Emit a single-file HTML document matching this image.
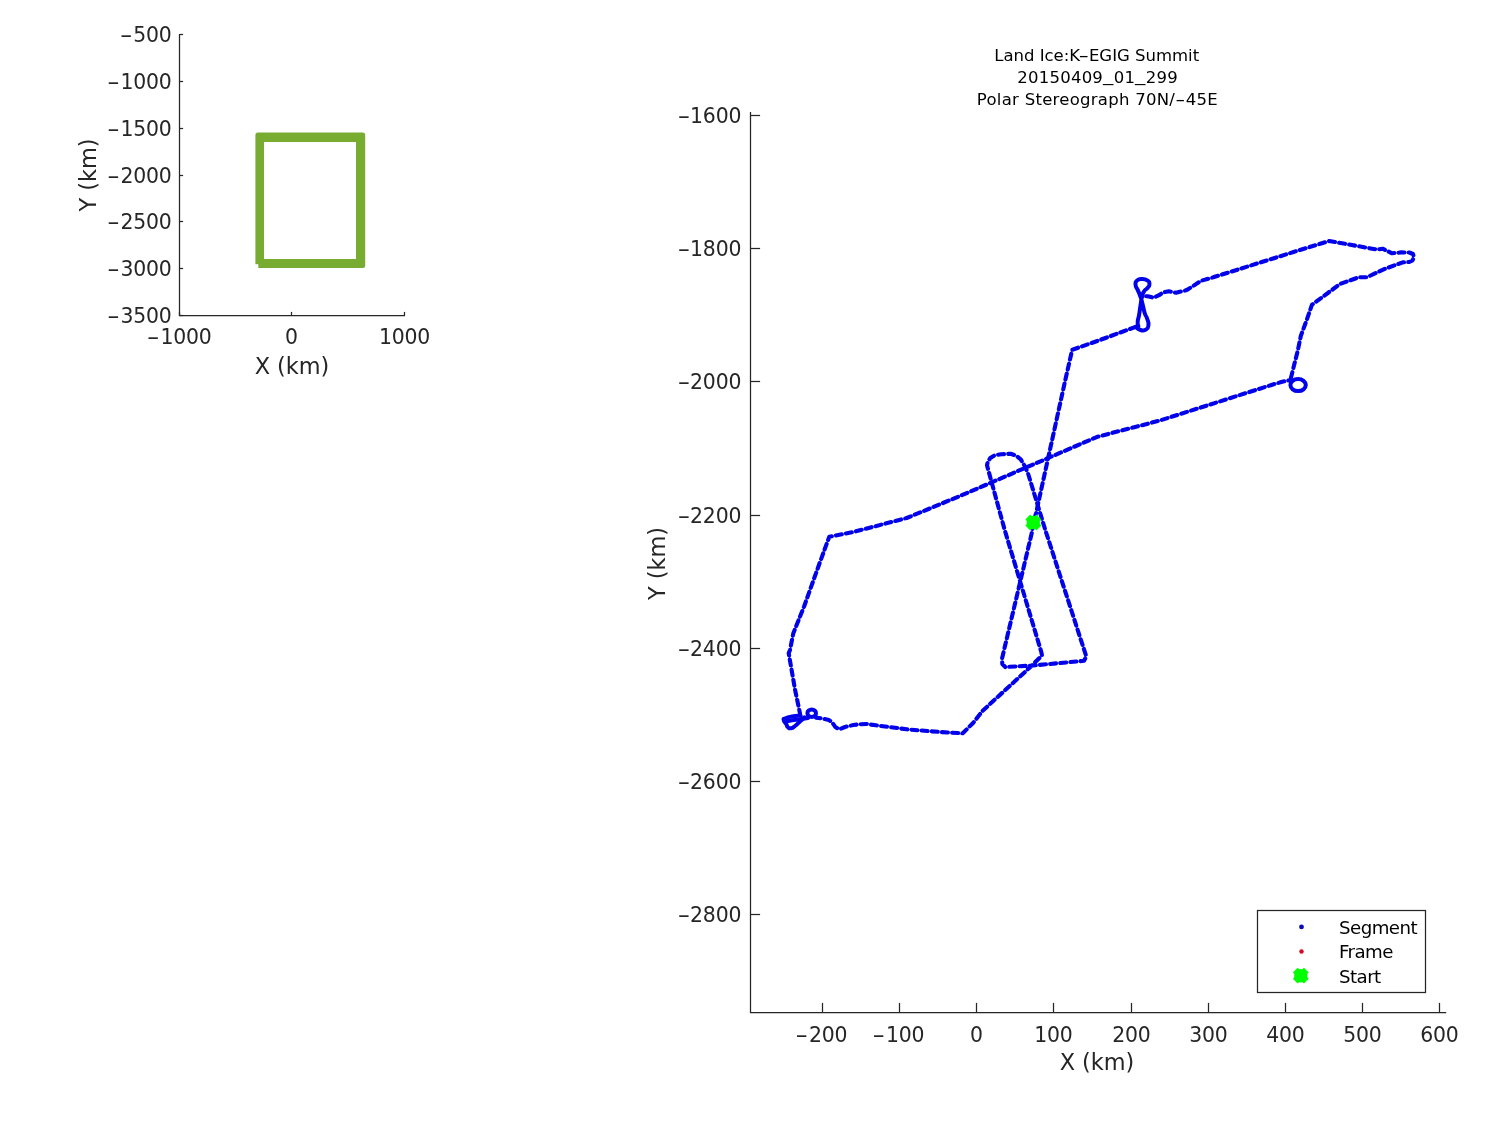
<!DOCTYPE html>
<html lang="en"><head><meta charset="utf-8"><title>Land Ice:K-EGIG Summit 20150409_01_299</title>
<style>
html,body{margin:0;padding:0;background:#fff;}
body{width:1500px;height:1125px;overflow:hidden;}
svg{display:block;}
text{font-family:"DejaVu Sans", "Liberation Sans", sans-serif;}
.tick{font-size:20.4px;letter-spacing:-0.2px;fill:#262626;}
.lab{font-size:22.4px;fill:#262626;}
.ttl{font-size:16.5px;fill:#000;}
.leg{font-size:18.2px;letter-spacing:-0.55px;fill:#000;}
.ax{stroke:#262626;stroke-width:1.25;fill:none;}
</style></head><body>
<svg width="1500" height="1125" viewBox="0 0 1500 1125">
<rect x="0" y="0" width="1500" height="1125" fill="#ffffff"/>
<g id="overview">
<path class="ax" d="M179.5 34.0 V315.5 H405.0"/>
<line class="ax" x1="179.5" y1="34.5" x2="183.1" y2="34.5"/>
<text class="tick" x="171.5" y="42.1" text-anchor="end"><tspan textLength="12.5" lengthAdjust="spacingAndGlyphs">-</tspan><tspan dx="1.0">500</tspan></text>
<line class="ax" x1="179.5" y1="81.5" x2="183.1" y2="81.5"/>
<text class="tick" x="171.5" y="89.1" text-anchor="end"><tspan textLength="12.5" lengthAdjust="spacingAndGlyphs">-</tspan><tspan dx="1.0">1000</tspan></text>
<line class="ax" x1="179.5" y1="128.5" x2="183.1" y2="128.5"/>
<text class="tick" x="171.5" y="136.1" text-anchor="end"><tspan textLength="12.5" lengthAdjust="spacingAndGlyphs">-</tspan><tspan dx="1.0">1500</tspan></text>
<line class="ax" x1="179.5" y1="175.5" x2="183.1" y2="175.5"/>
<text class="tick" x="171.5" y="183.1" text-anchor="end"><tspan textLength="12.5" lengthAdjust="spacingAndGlyphs">-</tspan><tspan dx="1.0">2000</tspan></text>
<line class="ax" x1="179.5" y1="221.5" x2="183.1" y2="221.5"/>
<text class="tick" x="171.5" y="229.1" text-anchor="end"><tspan textLength="12.5" lengthAdjust="spacingAndGlyphs">-</tspan><tspan dx="1.0">2500</tspan></text>
<line class="ax" x1="179.5" y1="268.5" x2="183.1" y2="268.5"/>
<text class="tick" x="171.5" y="276.1" text-anchor="end"><tspan textLength="12.5" lengthAdjust="spacingAndGlyphs">-</tspan><tspan dx="1.0">3000</tspan></text>
<line class="ax" x1="179.5" y1="315.5" x2="183.1" y2="315.5"/>
<text class="tick" x="171.5" y="323.1" text-anchor="end"><tspan textLength="12.5" lengthAdjust="spacingAndGlyphs">-</tspan><tspan dx="1.0">3500</tspan></text>
<line class="ax" x1="179.5" y1="315.5" x2="179.5" y2="311.9"/>
<text class="tick" x="179.2" y="344.4" text-anchor="middle"><tspan textLength="12.5" lengthAdjust="spacingAndGlyphs">-</tspan><tspan dx="1.3">1000</tspan></text>
<line class="ax" x1="291.5" y1="315.5" x2="291.5" y2="311.9"/>
<text class="tick" x="291.5" y="344.4" text-anchor="middle">0</text>
<line class="ax" x1="404.5" y1="315.5" x2="404.5" y2="311.9"/>
<text class="tick" x="404.5" y="344.4" text-anchor="middle">1000</text>
<text class="lab" x="292" y="374" text-anchor="middle">X (km)</text>
<text class="lab" transform="translate(96,175) rotate(-90)" text-anchor="middle">Y (km)</text>
<path fill-rule="evenodd" fill="#77AC30" d="M257.9 132.6 H362.7 Q365.2 132.6 365.2 135.1 V265.4 Q365.2 267.9 362.7 267.9 H255.4 V135.1 Q255.4 132.6 257.9 132.6 Z M264 141.9 V259 H356 V141.9 Z"/>
<rect x="252" y="264.2" width="6.3" height="6" fill="#ffffff"/>
</g>
<g id="main">
<path class="ax" d="M750.5 111.9 V1012.5 H1446.2"/>
<line class="ax" x1="750.5" y1="115.5" x2="760.1" y2="115.5"/>
<text class="tick" x="741.2" y="123.1" text-anchor="end"><tspan textLength="12.5" lengthAdjust="spacingAndGlyphs">-</tspan><tspan dx="0">1600</tspan></text>
<line class="ax" x1="750.5" y1="248.5" x2="760.1" y2="248.5"/>
<text class="tick" x="741.2" y="256.1" text-anchor="end"><tspan textLength="12.5" lengthAdjust="spacingAndGlyphs">-</tspan><tspan dx="0">1800</tspan></text>
<line class="ax" x1="750.5" y1="381.5" x2="760.1" y2="381.5"/>
<text class="tick" x="741.2" y="389.1" text-anchor="end"><tspan textLength="12.5" lengthAdjust="spacingAndGlyphs">-</tspan><tspan dx="0">2000</tspan></text>
<line class="ax" x1="750.5" y1="515.5" x2="760.1" y2="515.5"/>
<text class="tick" x="741.2" y="523.1" text-anchor="end"><tspan textLength="12.5" lengthAdjust="spacingAndGlyphs">-</tspan><tspan dx="0">2200</tspan></text>
<line class="ax" x1="750.5" y1="648.5" x2="760.1" y2="648.5"/>
<text class="tick" x="741.2" y="656.1" text-anchor="end"><tspan textLength="12.5" lengthAdjust="spacingAndGlyphs">-</tspan><tspan dx="0">2400</tspan></text>
<line class="ax" x1="750.5" y1="781.5" x2="760.1" y2="781.5"/>
<text class="tick" x="741.2" y="789.1" text-anchor="end"><tspan textLength="12.5" lengthAdjust="spacingAndGlyphs">-</tspan><tspan dx="0">2600</tspan></text>
<line class="ax" x1="750.5" y1="914.5" x2="760.1" y2="914.5"/>
<text class="tick" x="741.2" y="922.1" text-anchor="end"><tspan textLength="12.5" lengthAdjust="spacingAndGlyphs">-</tspan><tspan dx="0">2800</tspan></text>
<line class="ax" x1="822.5" y1="1012.5" x2="822.5" y2="1002.9"/>
<text class="tick" x="821.3" y="1041.5" text-anchor="middle"><tspan textLength="12.5" lengthAdjust="spacingAndGlyphs">-</tspan><tspan dx="1.3">200</tspan></text>
<line class="ax" x1="899.5" y1="1012.5" x2="899.5" y2="1002.9"/>
<text class="tick" x="898.3" y="1041.5" text-anchor="middle"><tspan textLength="12.5" lengthAdjust="spacingAndGlyphs">-</tspan><tspan dx="1.3">100</tspan></text>
<line class="ax" x1="976.5" y1="1012.5" x2="976.5" y2="1002.9"/>
<text class="tick" x="976.5" y="1041.5" text-anchor="middle">0</text>
<line class="ax" x1="1053.5" y1="1012.5" x2="1053.5" y2="1002.9"/>
<text class="tick" x="1053.5" y="1041.5" text-anchor="middle">100</text>
<line class="ax" x1="1131.5" y1="1012.5" x2="1131.5" y2="1002.9"/>
<text class="tick" x="1131.5" y="1041.5" text-anchor="middle">200</text>
<line class="ax" x1="1208.5" y1="1012.5" x2="1208.5" y2="1002.9"/>
<text class="tick" x="1208.5" y="1041.5" text-anchor="middle">300</text>
<line class="ax" x1="1285.5" y1="1012.5" x2="1285.5" y2="1002.9"/>
<text class="tick" x="1285.5" y="1041.5" text-anchor="middle">400</text>
<line class="ax" x1="1362.5" y1="1012.5" x2="1362.5" y2="1002.9"/>
<text class="tick" x="1362.5" y="1041.5" text-anchor="middle">500</text>
<line class="ax" x1="1439.5" y1="1012.5" x2="1439.5" y2="1002.9"/>
<text class="tick" x="1439.5" y="1041.5" text-anchor="middle">600</text>
<text class="lab" x="1097" y="1070" text-anchor="middle">X (km)</text>
<text class="lab" transform="translate(665,563.5) rotate(-90)" text-anchor="middle">Y (km)</text>
<text class="ttl" x="1096.7" y="60.8" text-anchor="middle" style="letter-spacing:0px">Land Ice:K<tspan textLength="10.5" lengthAdjust="spacingAndGlyphs">-</tspan>EGIG Summit</text>
<text class="ttl" x="1097.6" y="82.8" text-anchor="middle" style="letter-spacing:0.22px">20150409<tspan dy="-1.7" textLength="10.6" lengthAdjust="spacingAndGlyphs">_</tspan><tspan dy="1.7">01</tspan><tspan dy="-1.7" textLength="10.6" lengthAdjust="spacingAndGlyphs">_</tspan><tspan dy="1.7">299</tspan></text>
<text class="ttl" x="1097.4" y="104.5" text-anchor="middle" style="letter-spacing:0.27px">Polar Stereograph 70N/<tspan textLength="10.5" lengthAdjust="spacingAndGlyphs">-</tspan>45E</text>
<path d="M1033.3 523.0 L1032.0 532.0 L1002.0 658.7 L1002.3 664.0 L1005.3 667.0 L1033.0 665.5 L1084.0 660.8 L1086.3 656.5 L1045.3 530.0 L1028.0 473.3 L1024.7 466.0 L1020.7 459.3 L1016.0 455.6 L1010.7 453.8 L1001.3 454.2 L994.7 455.3 L990.3 458.0 L987.8 461.8 L987.0 465.3 L1004.7 530.0 L1041.3 652.0 L1042.0 655.5 L1030.7 666.7 L982.7 710.7 L973.3 722.7 L962.7 733.3 L940.0 732.0 L906.7 729.3 L876.0 725.3 L866.7 724.0 L860.0 724.2 L853.3 725.0 L845.0 727.0 L839.3 729.2 L835.6 727.3 L831.9 722.0 L828.7 719.9 L820.7 718.3 L816.0 717.6" fill="none" stroke="#0202ea" stroke-width="4.1" stroke-dasharray="6 4.2" stroke-linejoin="round" stroke-linecap="round"/>
<path d="M800.4 715.6 L798.8 707.6 L795.1 690.0 L788.7 653.3 L790.0 650.0 L793.3 633.3 L804.0 606.7 L819.3 564.0 L829.3 536.7 L853.3 532.0 L906.7 518.0 L960.0 496.0 L1097.3 436.8 L1160.0 420.5 L1270.7 385.2 L1281.3 382.0 L1290.9 379.9" fill="none" stroke="#0202ea" stroke-width="4.1" stroke-dasharray="6 4.2" stroke-linejoin="round" stroke-linecap="round"/>
<path d="M1290.9 378.0 L1297.9 350.0 L1300.8 336.0 L1306.7 320.0 L1312.0 304.7 L1340.0 284.0 L1358.7 277.3 L1366.7 277.3 L1385.3 268.7 L1402.7 262.4 L1409.3 262.0 L1412.5 260.5 L1414.0 257.2 L1413.0 254.0 L1409.3 252.5 L1401.3 252.4 L1392.0 253.3 L1382.7 248.7 L1377.3 249.6 L1329.3 241.0 L1300.0 250.0 L1213.3 277.3 L1201.3 280.7 L1188.0 289.3 L1185.0 290.6 L1176.1 292.7 L1169.0 291.3 L1163.3 292.4 L1159.0 295.2 L1153.4 297.7 L1147.7 296.3 L1143.4 296.3" fill="none" stroke="#0202ea" stroke-width="4.1" stroke-dasharray="6 4.2" stroke-linejoin="round" stroke-linecap="round"/>
<path d="M1135.6 326.9 L1100.0 340.0 L1072.2 349.8 L1065.3 380.0 L1048.0 458.7 L1036.0 513.3 L1033.3 523.0" fill="none" stroke="#0202ea" stroke-width="4.1" stroke-dasharray="6 4.2" stroke-linejoin="round" stroke-linecap="round"/>
<ellipse cx="811.7" cy="713.2" rx="4.3" ry="3.7" fill="none" stroke="#0202ea" stroke-width="4" stroke-linejoin="round" stroke-linecap="round"/>
<path d="M800.4 715.6 C797.6 715.9 797.0 715.6 792.0 716.5 C787.0 717.4 788.2 717.0 785.5 718.3 C782.8 719.6 783.5 718.3 783.8 720.3 C784.1 722.3 784.9 722.0 786.3 724.3 C787.7 726.6 786.4 726.0 788.0 727.3 C789.6 728.6 788.7 728.6 791.0 728.2 C793.3 727.8 792.0 728.2 795.0 726.0 C798.0 723.8 796.8 724.4 800.0 721.5 C803.2 718.6 803.0 718.7 804.5 717.3" fill="none" stroke="#0202ea" stroke-width="4" stroke-linejoin="round" stroke-linecap="round"/>
<path d="M785.5 721.5 L792.0 720.3 L800.0 719.3 L808.0 718.0" fill="none" stroke="#0202ea" stroke-width="4" stroke-linejoin="round" stroke-linecap="round"/>
<ellipse cx="1298.1" cy="385.1" rx="7.7" ry="6" fill="none" stroke="#0202ea" stroke-width="4" stroke-linejoin="round" stroke-linecap="round"/>
<path d="M1135.6 326.9 C1137.3 327.9 1137.3 329.1 1140.6 330.0 C1143.9 330.9 1142.9 331.2 1145.5 329.7 C1148.1 328.2 1147.9 329.2 1148.4 325.4 C1148.9 321.6 1148.2 322.3 1147.0 318.3 C1145.8 314.3 1146.2 317.9 1144.8 313.4 C1143.4 308.9 1144.1 310.3 1142.7 304.8 C1141.3 299.3 1142.3 302.0 1140.6 297.0 C1138.9 292.0 1139.4 293.9 1137.7 289.9 C1136.0 285.9 1135.8 288.0 1135.6 284.9 C1135.4 281.8 1134.9 282.6 1137.0 280.6 C1139.1 278.6 1138.4 278.9 1142.0 278.9 C1145.6 278.9 1145.2 278.8 1147.7 280.6 C1150.2 282.4 1149.4 281.8 1149.4 284.2 C1149.4 286.6 1149.5 285.4 1147.7 287.8 C1145.9 290.2 1146.0 288.2 1144.1 291.3 C1142.2 294.4 1143.2 292.5 1142.0 297.0 C1140.8 301.5 1141.6 298.9 1140.6 304.8 C1139.6 310.7 1140.1 309.1 1139.1 314.8 C1138.1 320.5 1137.9 318.1 1137.7 321.9 C1137.5 325.7 1138.2 324.8 1138.4 326.2" fill="none" stroke="#0202ea" stroke-width="4" stroke-linejoin="round" stroke-linecap="round"/>
<circle cx="1033.3" cy="522.5" r="6.7" fill="#00ff00"/><path d="M1027.78 516.98 L1038.82 528.02 M1038.82 516.98 L1027.78 528.02" stroke="#00ff00" stroke-width="6.8" fill="none" stroke-linecap="butt"/>
<rect x="1257.5" y="910.5" width="168" height="82" fill="#fff" stroke="#262626" stroke-width="1.25"/>
<circle cx="1301.5" cy="926.9" r="2.4" fill="#0c0cb8"/>
<circle cx="1301.5" cy="951.5" r="2.25" fill="#d40a28"/>
<circle cx="1300.8" cy="975.7" r="6.7" fill="#00ff00"/><path d="M1295.28 970.18 L1306.32 981.22 M1306.32 970.18 L1295.28 981.22" stroke="#00ff00" stroke-width="6.8" fill="none" stroke-linecap="butt"/>
<text class="leg" x="1339" y="933.6">Segment</text>
<text class="leg" x="1339" y="958.4">Frame</text>
<text class="leg" x="1339" y="982.8">Start</text>
</g>
</svg></body></html>
